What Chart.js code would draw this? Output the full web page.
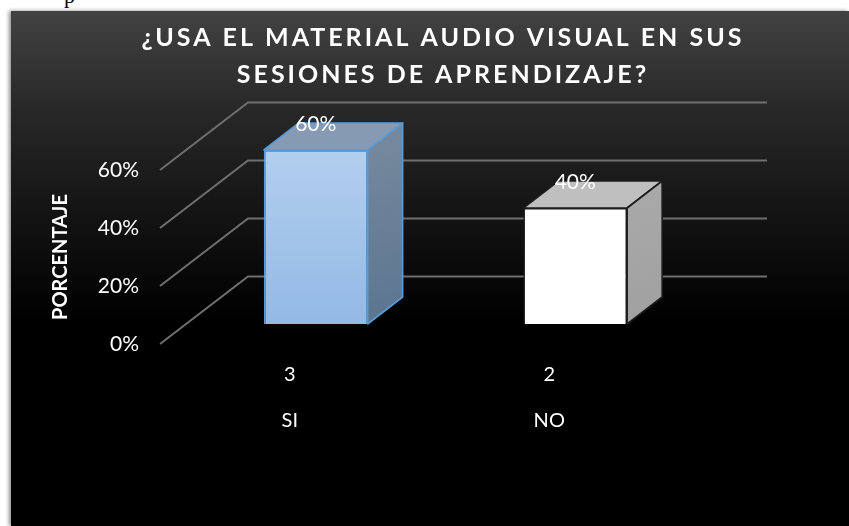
<!DOCTYPE html>
<html>
<head>
<meta charset="utf-8">
<style>
html,body{margin:0;padding:0;background:#fff;width:849px;height:526px;overflow:hidden}
#scrap{position:absolute;left:64px;top:-15px;font:22px/22px "Liberation Serif",serif;color:#000}
#panel{position:absolute;left:11px;top:11px;width:838px;height:515px;box-shadow:-2px 0 4px rgba(0,0,0,.45)}
canvas{display:block}
</style>
<script src="https://cdn.jsdelivr.net/npm/chart.js@4"></script>
</head>
<body>
<div id="scrap">p</div>
<div id="panel"><canvas id="c" width="838" height="515"></canvas></div>
<script>
const titleLines = ['¿USA EL MATERIAL AUDIO VISUAL EN SUS', 'SESIONES DE APRENDIZAJE?'];
const counts = ['3', '2'];
const answers = ['SI', 'NO'];
const percentages = [60, 40];
const yAxisTitle = 'PORCENTAJE';

const FONT = 'Lato';
const WALL = {dx: 88, dy: -67.5};
const BAR_SHIFT = {dx: 26, dy: -20};
const BAR_DEPTH = {dx: 35, dy: -27};
const LOOKS = [
  {front: ['#b2cfee', '#93b9e5'], top: '#869bb3', side: ['#74879d', '#5b758f'], line: '#5b9bd5', lw: 1.6},
  {front: ['#ffffff', '#ffffff'], top: '#bfbfbf', side: ['#a8a8a8', '#a0a0a0'], line: '#1c1c1c', lw: 1.6}
];

const scene3d = {
  id: 'scene3d',
  beforeDraw(chart) {
    const {ctx, width, height} = chart;
    const g = ctx.createLinearGradient(0, 0, 0, height);
    g.addColorStop(0, '#424242');
    g.addColorStop(0.2, '#272727');
    g.addColorStop(0.4, '#131313');
    g.addColorStop(0.6, '#000000');
    g.addColorStop(1, '#000000');
    ctx.save();
    ctx.fillStyle = g;
    ctx.fillRect(0, 0, width, height);
    ctx.restore();
  },
  beforeDatasetsDraw(chart) {
    const {ctx, scales} = chart;
    const x0 = scales.x.left, x1 = scales.x.right;
    ctx.save();
    ctx.strokeStyle = '#6f6f6f';
    ctx.lineWidth = 2;
    scales.y.ticks.forEach(t => {
      const y = scales.y.getPixelForValue(t.value);
      ctx.beginPath();
      ctx.moveTo(x0, y);
      ctx.lineTo(x0 + WALL.dx, y + WALL.dy);
      ctx.lineTo(x1 + WALL.dx, y + WALL.dy);
      ctx.stroke();
    });
    ctx.restore();
    ctx.save();
    ctx.translate(BAR_SHIFT.dx, BAR_SHIFT.dy);
  },
  afterDatasetsDraw(chart) {
    const {ctx} = chart;
    ctx.restore();
    const meta = chart.getDatasetMeta(0);
    const d = BAR_DEPTH;
    meta.data.forEach((bar, i) => {
      const l = bar.x - bar.width / 2 + BAR_SHIFT.dx, r = bar.x + bar.width / 2 + BAR_SHIFT.dx;
      const t = bar.y + BAR_SHIFT.dy, b = bar.base + BAR_SHIFT.dy;
      const look = LOOKS[i];
      ctx.save();
      ctx.lineJoin = 'round';
      ctx.strokeStyle = look.line;
      ctx.lineWidth = look.lw;
      ctx.fillStyle = look.top;
      ctx.beginPath();
      ctx.moveTo(l, t); ctx.lineTo(l + d.dx, t + d.dy); ctx.lineTo(r + d.dx, t + d.dy); ctx.lineTo(r, t);
      ctx.closePath(); ctx.fill(); ctx.stroke();
      const g = ctx.createLinearGradient(r, t, r + d.dx, b);
      g.addColorStop(0, look.side[0]);
      g.addColorStop(1, look.side[1]);
      ctx.fillStyle = g;
      ctx.beginPath();
      ctx.moveTo(r, t); ctx.lineTo(r + d.dx, t + d.dy); ctx.lineTo(r + d.dx, b + d.dy); ctx.lineTo(r, b);
      ctx.closePath(); ctx.fill(); ctx.stroke();
      ctx.fillStyle = '#ffffff';
      ctx.font = '21px ' + FONT;
      ctx.textAlign = 'center';
      ctx.textBaseline = 'middle';
      ctx.fillText(percentages[i] + '%', bar.x + BAR_SHIFT.dx, t + d.dy + 1);
      ctx.restore();
    });
  },
  afterLayout(chart) {
    const block = chart.titleBlock;
    if (block && !block._spaced) {
      const draw = block.draw;
      block.draw = function () {
        const c = this.ctx;
        c.save();
        c.translate(98, 0);
        c.letterSpacing = '3px';
        draw.call(this);
        c.restore();
      };
      block._spaced = true;
    }
  }
};

function frontFill(c) {
  const area = c.chart.chartArea;
  if (!area) return LOOKS[c.dataIndex].front[0];
  const look = LOOKS[c.dataIndex];
  const g = c.chart.ctx.createLinearGradient(0, area.top, 0, area.bottom);
  g.addColorStop(0, look.front[0]);
  g.addColorStop(1, look.front[1]);
  return g;
}

new Chart(document.getElementById('c'), {
  type: 'bar',
  data: {
    labels: counts.map((n, i) => [n, answers[i]]),
    datasets: [{
      data: percentages,
      clip: false,
      backgroundColor: frontFill,
      borderColor: LOOKS.map(l => l.line),
      borderWidth: 1.6,
      categoryPercentage: 1,
      barPercentage: 0.4
    }]
  },
  plugins: [scene3d],
  options: {
    responsive: false,
    animation: false,
    events: [],
    layout: {padding: {left: 0, right: 170, top: 0, bottom: 0}},
    plugins: {
      legend: {display: false},
      tooltip: {enabled: false},
      title: {
        display: true,
        text: titleLines,
        color: '#ffffff',
        font: {family: FONT, size: 25, weight: 'bold', lineHeight: '37px'},
        padding: {top: 8.5, bottom: 76.5},
        fullSize: true
      }
    },
    scales: {
      x: {
        grid: {display: false, drawTicks: false},
        border: {display: false},
        afterFit(s) { s.height = 182; },
        ticks: {
          color: '#ffffff',
          padding: 8,
          maxRotation: 0,
          autoSkip: false,
          font: {family: FONT, size: 20, lineHeight: '46px'}
        }
      },
      y: {
        min: 0,
        max: 60,
        grid: {display: false, drawTicks: false},
        border: {display: false},
        afterFit(s) { s.width = 149; },
        title: {
          display: true,
          text: yAxisTitle,
          color: '#ffffff',
          padding: {top: 38, bottom: 0},
          font: {family: FONT, size: 20, weight: 'bold'}
        },
        ticks: {
          stepSize: 20,
          color: '#ffffff',
          padding: 21,
          font: {family: FONT, size: 21},
          callback: v => v + '%'
        }
      }
    }
  }
});
</script>
</body>
</html>
